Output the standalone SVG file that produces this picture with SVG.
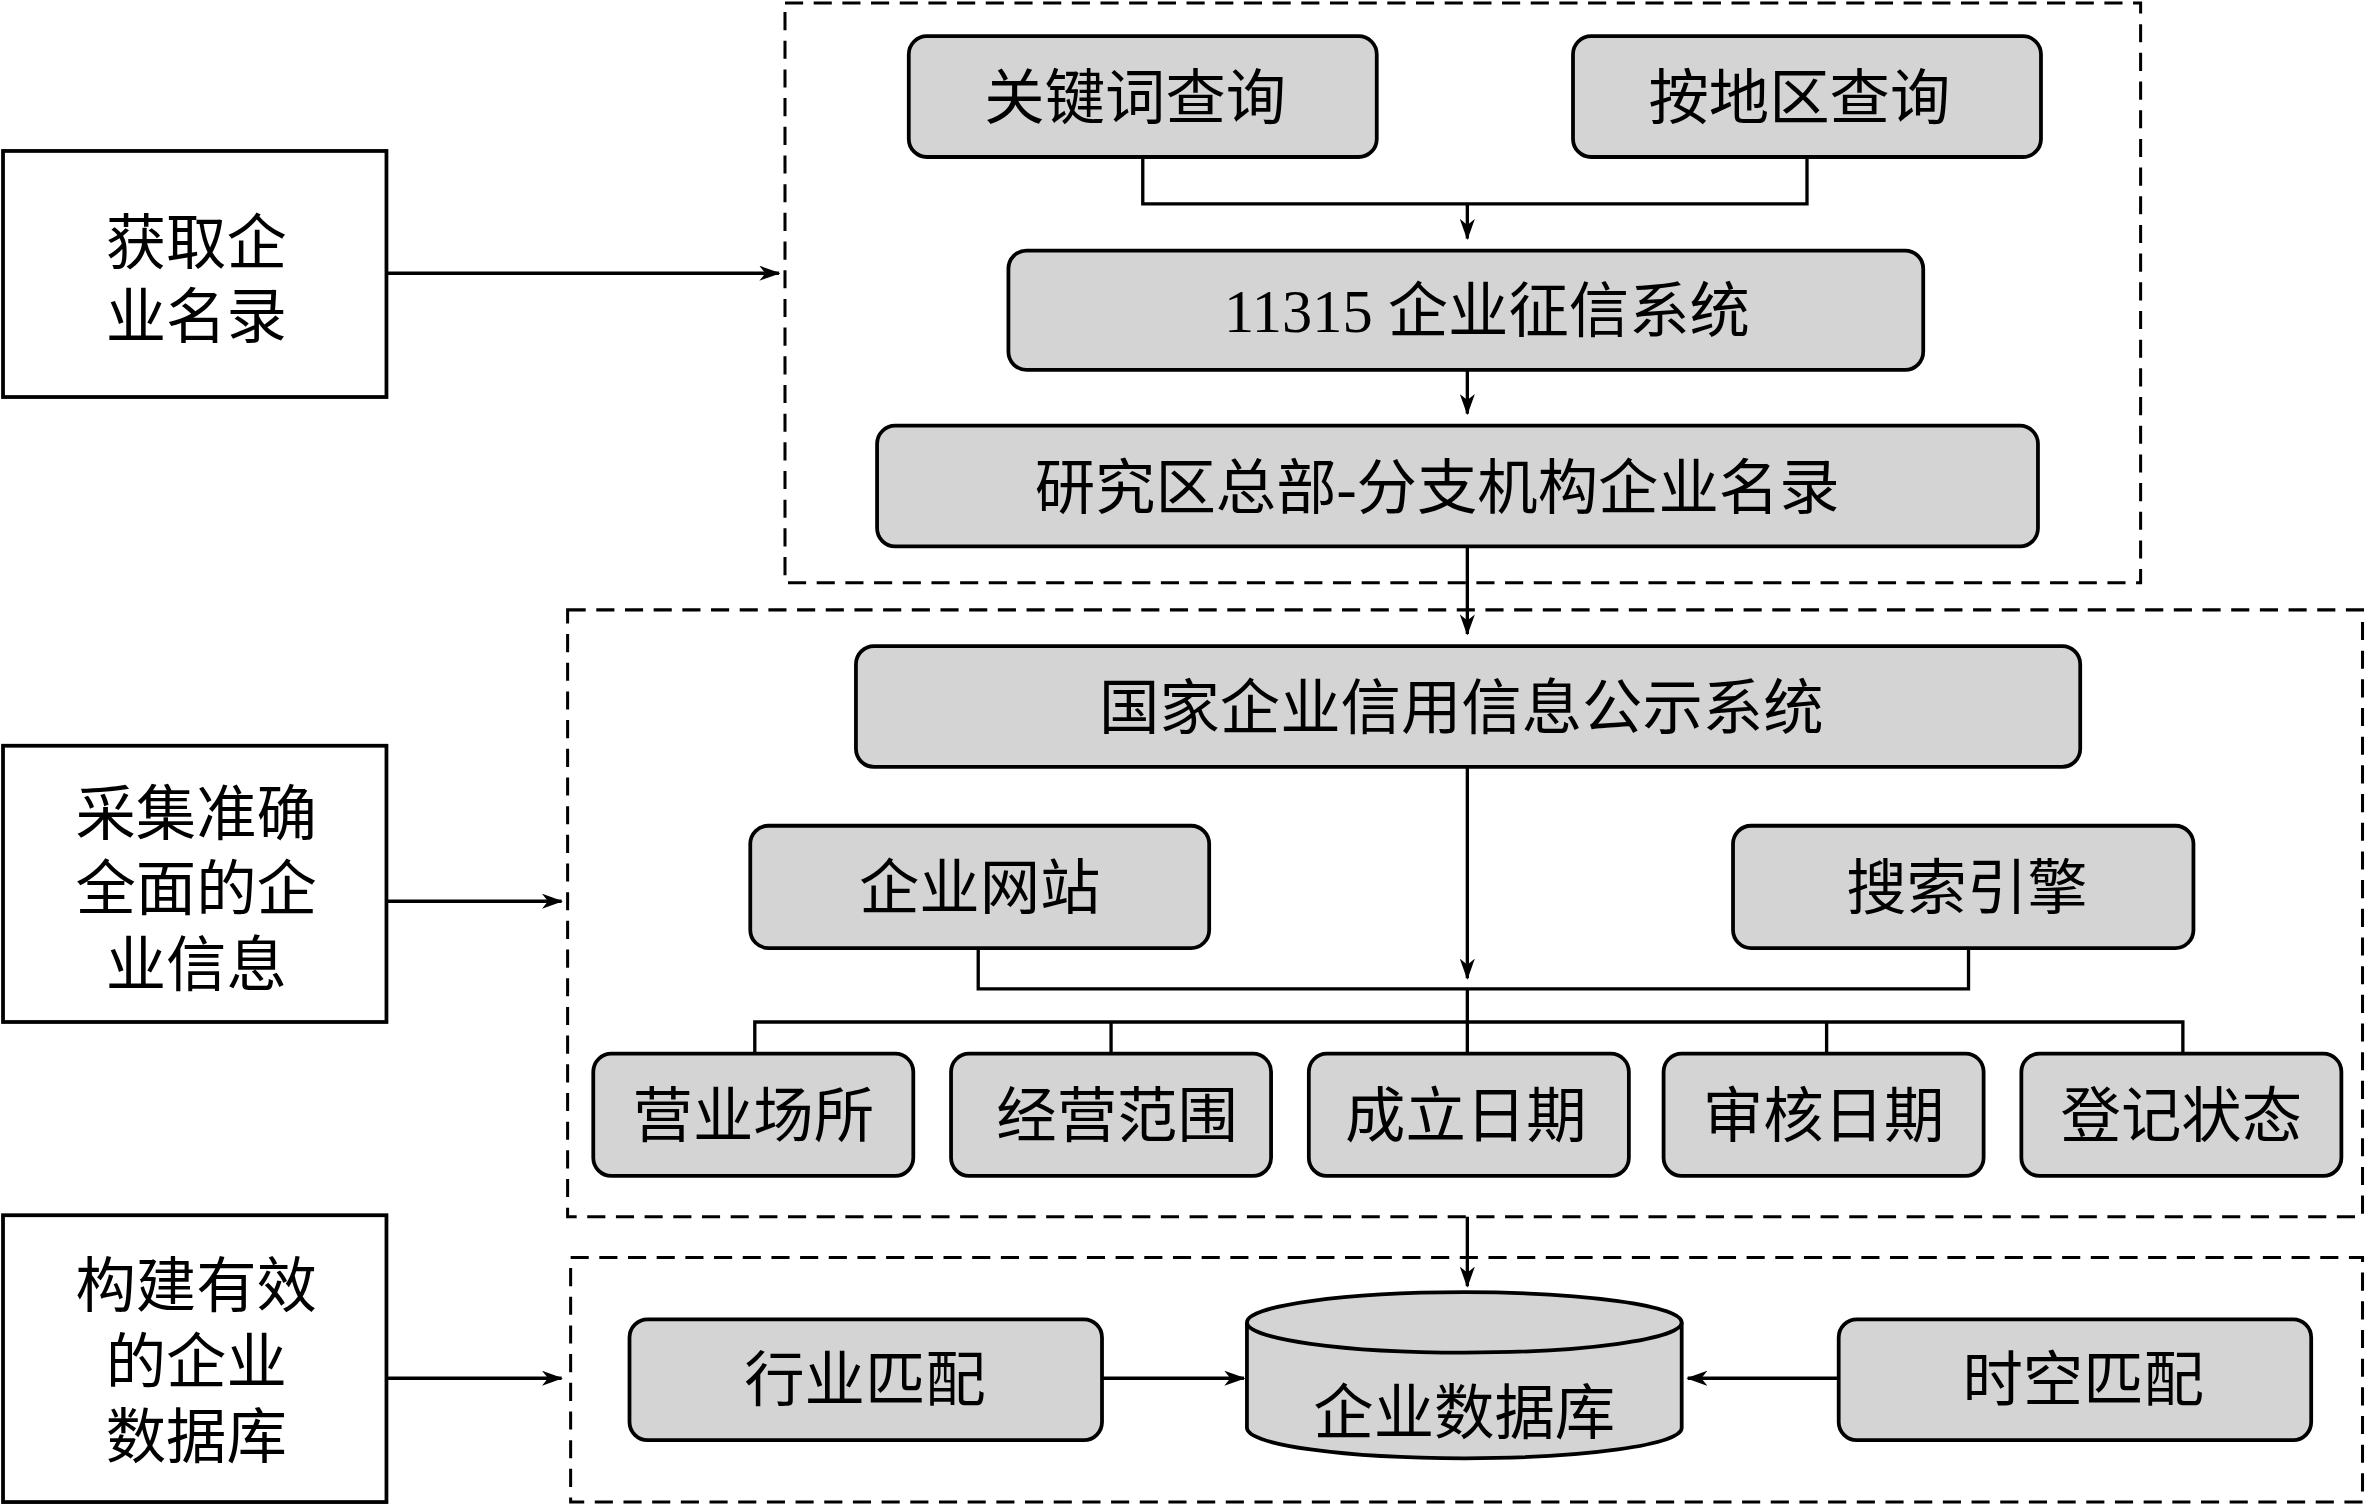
<svg xmlns="http://www.w3.org/2000/svg" width="2367" height="1507" viewBox="0 0 2367 1507">
<style>
.n{fill:#d4d4d4;stroke:#000;stroke-width:2.5}
.b{fill:#fff;stroke:#000;stroke-width:2.5}
.d{fill:none;stroke:#000;stroke-width:2;stroke-dasharray:12 7}
.c{fill:none;stroke:#000;stroke-width:2.2}
text{font-family:"Liberation Serif","Noto Sans CJK SC",serif;font-size:40px;text-anchor:middle;fill:#000}
</style>
<defs><marker id="a" markerWidth="14" markerHeight="10" refX="13" refY="5" orient="auto" markerUnits="userSpaceOnUse"><path d="M0,0L14,5L0,10L4,5Z"/></marker></defs>
<rect width="2367" height="1507" fill="#fff"/>
<g transform="scale(1.5096)">
<rect class="d" x="520" y="2" width="898" height="384"/>
<rect class="d" x="376" y="404" width="1189" height="402"/>
<rect class="d" x="378" y="833" width="1187" height="162"/>
<g id="left1"><rect class="b" x="2" y="100" width="254" height="163"/><text x="130" y="175">获取企</text><text x="130" y="224">业名录</text></g>
<g id="left2"><rect class="b" x="2" y="494" width="254" height="183"/><text x="130" y="553">采集准确</text><text x="130" y="603">全面的企</text><text x="130" y="653">业信息</text></g>
<g id="left3"><rect class="b" x="2" y="805" width="254" height="190"/><text x="130" y="866">构建有效</text><text x="130" y="916">的企业</text><text x="130" y="966">数据库</text></g>
<g id="n1"><rect class="n" x="602" y="24" width="310" height="80" rx="12"/><text x="752" y="79">关键词查询</text></g>
<g id="n2"><rect class="n" x="1042" y="24" width="310" height="80" rx="12"/><text x="1192" y="79">按地区查询</text></g>
<g id="n3"><rect class="n" x="668" y="166" width="606" height="79" rx="12"/><text x="985" y="220">11315 企业征信系统</text></g>
<g id="n4"><rect class="n" x="581" y="282" width="769" height="80" rx="12"/><text x="952" y="337">研究区总部-分支机构企业名录</text></g>
<g id="n5"><rect class="n" x="567" y="428" width="811" height="80" rx="12"/><text x="968" y="483">国家企业信用信息公示系统</text></g>
<g id="n6"><rect class="n" x="497" y="547" width="304" height="81" rx="12"/><text x="649" y="602">企业网站</text></g>
<g id="n7"><rect class="n" x="1148" y="547" width="305" height="81" rx="12"/><text x="1303" y="602">搜索引擎</text></g>
<g id="n8"><rect class="n" x="393" y="698" width="212" height="81" rx="12"/><text x="499" y="753">营业场所</text></g>
<g id="n9"><rect class="n" x="630" y="698" width="212" height="81" rx="12"/><text x="740" y="753">经营范围</text></g>
<g id="n10"><rect class="n" x="867" y="698" width="212" height="81" rx="12"/><text x="971" y="753">成立日期</text></g>
<g id="n11"><rect class="n" x="1102" y="698" width="212" height="81" rx="12"/><text x="1208" y="753">审核日期</text></g>
<g id="n12"><rect class="n" x="1339" y="698" width="212" height="81" rx="12"/><text x="1445" y="753">登记状态</text></g>
<g id="n13"><rect class="n" x="417" y="874" width="313" height="80" rx="12"/><text x="573" y="928">行业匹配</text></g>
<g id="n14"><rect class="n" x="1218" y="874" width="313" height="80" rx="12"/><text x="1380" y="928">时空匹配</text></g>
<g id="db"><path class="n" d="M826,876 L826,946 A144,20 0 0 0 1114,946 L1114,876"/><ellipse class="n" cx="970" cy="876" rx="144" ry="20"/><text x="970" y="950">企业数据库</text></g>
<g id="connectors">
<path class="c" d="M757,104V135H1197V104"/>
<path class="c" d="M972,135V158" marker-end="url(#a)"/>
<path class="c" d="M972,245V274" marker-end="url(#a)"/>
<path class="c" d="M972,362V420" marker-end="url(#a)"/>
<path class="c" d="M972,508V648" marker-end="url(#a)"/>
<path class="c" d="M648,628V655H1304V628"/>
<path class="c" d="M972,655V677M500,698V677H1446V698M736,677V698M972,677V698M1210,677V698"/>
<path class="c" d="M972,806V852" marker-end="url(#a)"/>
<path class="c" d="M730,913H824" marker-end="url(#a)"/>
<path class="c" d="M1218,913H1118" marker-end="url(#a)"/>
<path class="c" d="M256,181H516" marker-end="url(#a)"/>
<path class="c" d="M256,597H372" marker-end="url(#a)"/>
<path class="c" d="M256,913H372" marker-end="url(#a)"/>
</g>
</g>
</svg>
